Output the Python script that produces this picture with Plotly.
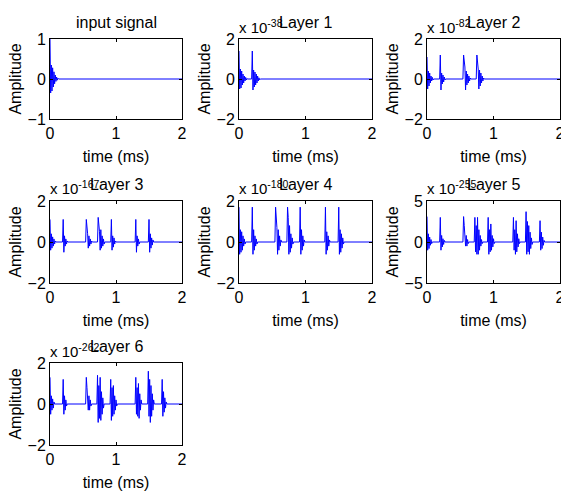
import plotly.graph_objects as go

W, H = 561, 493
DT = 0.01  # sample spacing (ms) used for the burst sequences

titles = ["input signal", "Layer 1", "Layer 2", "Layer 3", "Layer 4", "Layer 5", "Layer 6"]
exponents = [None, "-38", "-82", "-167", "-180", "-255", "-262"]
ylims = [1, 2, 2, 2, 2, 5, 2]
xtick_vals = [0, 1, 2]

# burst onsets (ms) per panel
input_onsets = [0.0]
input_bursts = [[1.0, -0.35, 0.35, -0.3, 0.28, -0.2, 0.18, -0.12, 0.1, -0.06, 0.05, -0.03, 0.02, 0]]

l1_onsets = [0.0, 0.19]
l1_bursts = [
    [1.4, -0.5, 0.5, -0.45, 0.4, -0.3, 0.25, -0.2, 0.15, -0.1, 0.08, -0.05, 0.03, 0],
    [0, 1.4, -0.55, 0.45, -0.4, 0.35, -0.3, 0.25, -0.2, 0.15, -0.1, 0.06, -0.04, 0],
]

l2_onsets = [0.0, 0.19, 0.54, 0.74]
l2_bursts = [
    [1.1, -0.5, 0.4, -0.35, 0.3, -0.2, 0.15, -0.1, 0.08, -0.05, 0],
    [0, 1.2, -0.55, 0.3, -0.25, 0.2, -0.15, 0.1, -0.05, 0],
    [0, 1.2, 0.9, 0.6, -0.55, 0.4, -0.3, 0.25, -0.2, 0.15, -0.1, 0.05, 0],
    [0, 1.2, 0.85, 0.5, -0.5, 0.45, -0.35, 0.3, -0.2, 0.15, -0.1, 0.05, 0],
]

l3_onsets = [0.0, 0.19, 0.54, 0.72, 0.92, 1.29, 1.49]
l3_bursts = [
    [1.1, -0.4, 0.4, -0.3, 0.25, -0.2, 0.15, -0.1, 0.05, 0],
    [0, 1.1, -0.5, 0.3, -0.2, 0.15, -0.1, 0.05, 0],
    [0, 1.1, 0.8, 0.4, -0.3, 0.3, -0.2, 0.15, -0.1, 0.05, 0],
    [0, 1.2, 0.8, 0.5, -0.4, 0.6, -0.3, 0.3, -0.2, 0.15, -0.1, 0],
    [0, 1.1, -0.4, 0.3, -0.25, 0.2, -0.1, 0.05, 0],
    [0, 1.1, -0.5, 0.3, -0.2, 0.15, -0.1, 0],
    [0, 1.1, -0.5, 0.4, -0.3, 0.2, -0.15, 0.1, 0],
]

l4_onsets = [0.0, 0.19, 0.54, 0.72, 0.91, 1.29, 1.49]
l4_bursts = [
    [1.7, -0.6, 0.6, -0.5, 0.5, -0.4, 0.3, -0.2, 0.15, -0.1, 0],
    [0, 1.7, -0.6, 0.6, -0.4, 0.3, -0.2, 0.15, -0.1, 0],
    [0, 1.7, 1.2, 0.7, -0.6, 0.6, -0.4, 0.3, -0.2, 0.1, 0],
    [0, 1.7, 1.2, -0.6, 0.8, -0.5, 0.4, -0.3, 0.2, -0.1, 0],
    [0, 1.7, -0.6, 0.6, -0.4, 0.3, -0.2, 0.1, 0],
    [0, 1.7, -0.6, 0.5, -0.4, 0.3, -0.2, 0.1, 0],
    [0, 1.7, -0.6, 0.6, -0.5, 0.4, -0.3, 0.2, -0.1, 0],
]

l5_onsets = [0.0, 0.19, 0.54, 0.71, 0.91, 1.29, 1.48, 1.69]
l5_bursts = [
    [3.1, -1.0, 1.0, -0.8, 0.6, -0.4, 0.3, -0.2, 0],
    [0, 3.0, -1.0, 0.8, -0.6, 0.4, -0.3, 0.2, 0],
    [0, 3.1, 2.0, 1.0, -0.5, 0.8, -0.5, 0.3, -0.2, 0],
    [0, 3.0, -1.2, 2.0, -1.5, 3.0, -1.5, 1.5, -1.0, 0.8, -0.5, 0.3, -0.2, 0],
    [0, 3.0, -1.5, 1.5, -1.2, 2.2, -1.0, 0.8, -0.6, 0.4, -0.2, 0],
    [0, 3.0, -1.0, 1.5, -1.5, 2.6, -1.2, 1.0, -0.6, 0.4, -0.2, 0],
    [0, 3.7, -1.5, 2.5, -1.2, 2.0, -1.5, 1.2, -0.8, 0.5, -0.3, 0],
    [0, 2.6, -1.0, 1.2, -0.8, 0.6, -0.4, 0.2, 0],
]

l6_onsets = [0.0, 0.19, 0.54, 0.71, 0.91, 1.29, 1.48, 1.69]
l6_bursts = [
    [1.3, -0.5, 0.4, -0.3, 0.25, -0.2, 0.1, 0],
    [0, 1.2, -0.5, 0.4, -0.3, 0.2, -0.1, 0],
    [0, 1.3, 0.8, 0.4, -0.3, 0.4, -0.3, 0.2, -0.1, 0],
    [0, 1.4, -0.9, 0.9, -0.7, 1.3, -0.8, 0.6, -0.5, 0.3, -0.2, 0],
    [0, 1.2, -0.8, 0.8, -0.6, 0.9, -0.5, 0.4, -0.3, 0.2, -0.1, 0],
    [0, 1.3, -0.5, 0.8, -0.6, 1.0, -0.7, 0.5, -0.3, 0.2, 0],
    [0, 1.6, -0.6, 1.2, -0.9, 0.9, -0.6, 0.5, -0.3, 0.2, 0],
    [0, 1.2, -0.6, 0.6, -0.4, 0.3, -0.2, 0.1, 0],
]

panels = [
    (input_onsets, input_bursts), (l1_onsets, l1_bursts), (l2_onsets, l2_bursts),
    (l3_onsets, l3_bursts), (l4_onsets, l4_bursts), (l5_onsets, l5_bursts),
    (l6_onsets, l6_bursts),
]

# layout in pixels
col_px = [(50, 182), (239, 372), (427, 560)]
row_px = [(39, 119), (201, 283), (363, 445)]

FONT = "Liberation Sans, Arial, Helvetica, sans-serif"
FS = 16
fig = go.Figure()
annotations = []

for i, ((onsets, bursts), title, expo, ylim) in enumerate(zip(panels, titles, exponents, ylims)):
    r, c = divmod(i, 3)
    xs, ys = [], []
    for o, amps in zip(onsets, bursts):
        for k, a in enumerate(amps):
            xs.append(o + k * DT)
            ys.append(a)
    xs.append(2.0)
    ys.append(0.0)
    ax = "" if i == 0 else str(i + 1)
    fig.add_trace(go.Scatter(x=xs, y=ys, mode="lines",
                             line=dict(color="#0000FF", width=1),
                             xaxis="x" + ax, yaxis="y" + ax, showlegend=False,
                             hoverinfo="skip", cliponaxis=False))
    x0, x1 = col_px[c]
    top, bot = row_px[r]
    xd = [x0 / W, x1 / W]
    yd = [1 - bot / H, 1 - top / H]
    common = dict(showline=True, linecolor="black", linewidth=1, mirror="ticks",
                  ticks="inside", ticklen=3, tickcolor="black", showgrid=False,
                  zeroline=False, automargin=False, ticklabeloverflow="allow",
                  tickfont=dict(family=FONT, size=FS, color="black"))
    fig.update_layout(**{
        "xaxis" + ax: dict(domain=xd, range=[0, 2], tickvals=xtick_vals,
                           anchor="y" + ax,
                           title=dict(text="time (ms)", standoff=9,
                                      font=dict(family=FONT, size=FS, color="black")),
                           **common),
        "yaxis" + ax: dict(domain=yd, range=[-ylim, ylim], tickvals=[-ylim, 0, ylim],
                           anchor="x" + ax,
                           title=dict(text="Amplitude", standoff=1,
                                      font=dict(family=FONT, size=FS, color="black")),
                           **common),
    })
    annotations.append(dict(text=title, x=(x0 + x1) / 2 / W, y=yd[1] + 17 / H,
                            xref="paper", yref="paper", xanchor="center", yanchor="middle",
                            showarrow=False, font=dict(family=FONT, size=FS, color="black")))
    if expo:
        annotations.append(dict(text="x 10<sup>" + expo + "</sup>", x=(x0 - 2) / W, y=yd[1] + 13 / H,
                                xref="paper", yref="paper", xanchor="left", yanchor="middle",
                                showarrow=False,
                                font=dict(family=FONT, size=15, color="black")))

fig.update_layout(width=W, height=H, margin=dict(l=0, r=0, t=0, b=0),
                  plot_bgcolor="white", paper_bgcolor="white",
                  annotations=annotations)
fig.write_html("out.html", config={"displayModeBar": False},
               post_script="document.body.style.margin='0';document.body.style.overflow='hidden';")
